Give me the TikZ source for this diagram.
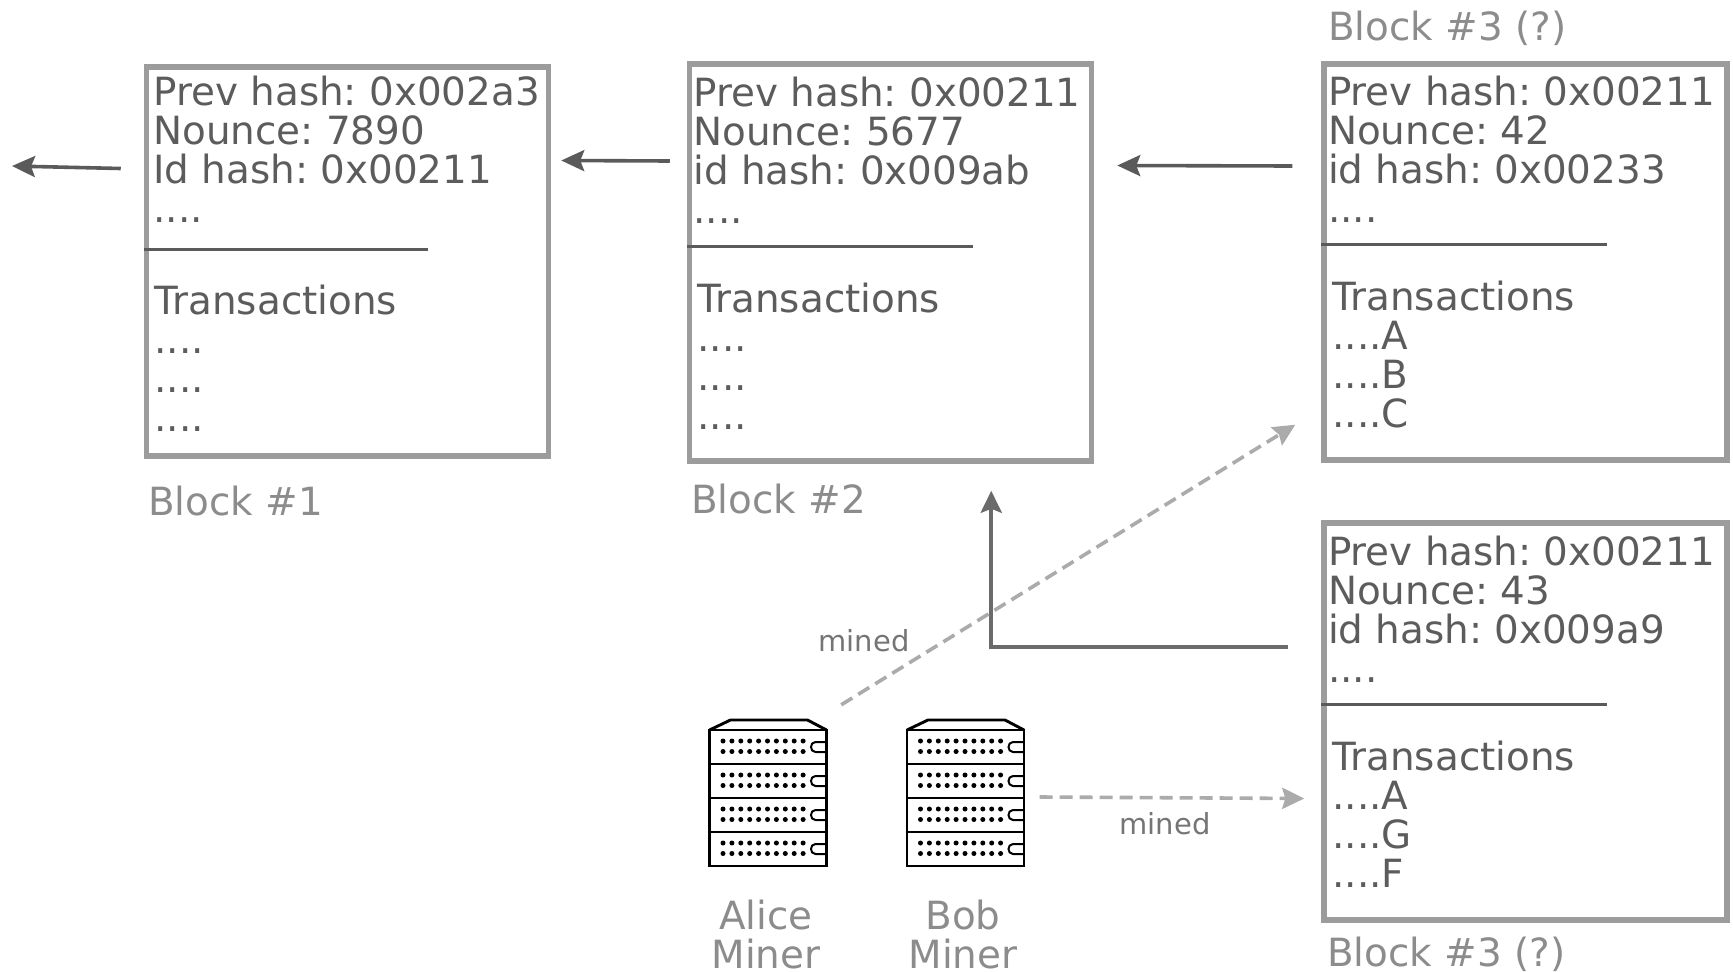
\documentclass[tikz,border=0pt]{standalone}
\usepackage{fontspec}
\setmainfont{DejaVu Sans}
\frenchspacing
\usetikzlibrary{arrows.meta}
\definecolor{inktext}{HTML}{5C5C5C}
\definecolor{inklabel}{HTML}{8C8C8C}
\definecolor{inkbox}{HTML}{9C9C9C}
\definecolor{inkarrow}{HTML}{5A5A5A}
\definecolor{inkdash}{HTML}{ABABAB}
\newcommand{\firstln}{\rule{0pt}{30pt}}
\newcommand{\serverdraw}[3]{%
  \begin{scope}[shift={(#1,#2)}]
    \node[serverframe] (#3) at (59,74) {};
    \draw[srvline,line join=round] (0,12) -- (21,2) -- (98,2) -- (117,12);
    \draw[srvline] (0,12) rectangle (117,148);
    \foreach \ry in {46,80,114}{\draw[srvline] (0,\ry) -- (117,\ry);}
    \foreach \ry in {12,46,80,114}{
      \foreach \cx in {0,...,9}{
        \fill ({13.5+\cx*8.9},{\ry+11}) circle (2.5);
        \fill ({13.5+\cx*8.9},{\ry+21.5}) circle (2.5);
      }
      \draw[line width=2pt] (117,\ry+12) -- (106,\ry+12) .. controls (100,\ry+12) and (100,\ry+22) .. (106,\ry+22) -- (117,\ry+22);
    }
  \end{scope}}
\tikzset{
  x=1pt,y=-1pt,
  blockbox/.style={draw=inkbox,line width=5.5pt,rectangle,inner sep=0pt,fill=none},
  blocktext/.style={anchor=north west,inner sep=0pt,outer sep=0pt,align=left,text=inktext,font=\fontsize{38.85}{39}\selectfont},
  caption/.style={anchor=base west,inner sep=0pt,text=inklabel,font=\fontsize{38.85}{39}\selectfont},
  minerlabel/.style={anchor=north,inner sep=0pt,align=center,text=inklabel,font=\fontsize{38.85}{39}\selectfont},
  minedlabel/.style={inner sep=0pt,text=inktext!85,font=\fontsize{29}{30}\selectfont},
  divider/.style={draw=inkarrow,line width=3pt},
  chainarrow/.style={draw=inkarrow,line width=3.6pt,-{Stealth[length=23pt,width=21pt,inset=4pt]}},
  elbowarrow/.style={draw=inkarrow!90,line width=4.4pt,-{Stealth[length=22pt,width=21pt,inset=4pt]}},
  dasharrow/.style={draw=inkdash,line width=3.6pt,dash pattern=on 13pt off 7pt,-{Stealth[length=22pt,width=21pt,inset=3pt]}},
  srvline/.style={draw=black,line width=2.9pt},
  serverframe/.style={rectangle,inner sep=0pt,minimum width=117pt,minimum height=148pt}
}
\begin{document}
\begin{tikzpicture}
\useasboundingbox (0,0) rectangle (1733,972);
% blocks
\node[blockbox,minimum width=402pt,minimum height=389pt] (b1) at (347.5,261.5) {};
\node[blockbox,minimum width=402pt,minimum height=397pt] (b2) at (890.5,262.5) {};
\node[blockbox,minimum width=403pt,minimum height=396pt] (b3a) at (1525.5,262) {};
\node[blockbox,minimum width=403pt,minimum height=397pt] (b3b) at (1525.5,721.5) {};
% block 1 text
\node[blocktext] (b1h) at (153.5,75) {\firstln Prev hash: 0x002a3\\Nounce: 7890\\Id hash: 0x00211\\....};
\draw[divider] (b1.west |- 0,249) -- (428,249);
\node[blocktext] (b1t) at (154.5,284.5) {\firstln Transactions\\....\\....\\....};
% block 2 text
\node[blocktext] (b2h) at (693.5,76) {\firstln Prev hash: 0x00211\\Nounce: 5677\\id hash: 0x009ab\\....};
\draw[divider] (b2.west |- 0,246) -- (973,246);
\node[blocktext] (b2t) at (697.5,282.5) {\firstln Transactions\\....\\....\\....};
% block 3a text
\node[blocktext] (b3ah) at (1328,75) {\firstln Prev hash: 0x00211\\Nounce: 42\\id hash: 0x00233\\....};
\draw[divider] (b3a.west |- 0,244) -- (1607,244);
\node[blocktext] (b3at) at (1332.5,280.5) {\firstln Transactions\\....A\\....B\\....C};
% block 3b text
\node[blocktext] (b3bh) at (1328,535) {\firstln Prev hash: 0x00211\\Nounce: 43\\id hash: 0x009a9\\....};
\draw[divider] (b3b.west |- 0,704) -- (1607,704);
\node[blocktext] (b3bt) at (1332.5,740.5) {\firstln Transactions\\....A\\....G\\....F};
% captions
\node[caption] (c1) at (148,515) {Block \#1};
\node[caption] (c2) at (691,513) {Block \#2};
\node[caption] (c3a) at (1328,40) {Block \#3 (?)};
\node[caption] (c3b) at (1327,966) {Block \#3 (?)};
% servers
\serverdraw{709.5}{718}{alice}
\serverdraw{907}{718}{bob}
\node[minerlabel] (alab) at (766,900) {Alice\\Miner};
\node[minerlabel] (blab) at (963,900) {Bob\\Miner};
% free ends
\coordinate (tail) at (12,166);
% chain arrows
\draw[chainarrow] ([xshift=-23pt,yshift=93pt]b1.west) -- (tail);
\draw[chainarrow] ([xshift=-17pt,yshift=101.5pt]b2.west) -- ([xshift=10pt,yshift=101pt]b1.east);
\draw[chainarrow] ([xshift=-29pt,yshift=96pt]b3a.west) -- ([xshift=23pt,yshift=97pt]b2.east);
\draw[elbowarrow] ([xshift=-33pt,yshift=74.5pt]b3b.west) -| ([xshift=-103pt,yshift=-27pt]b2.south east);
\draw[dasharrow] ([xshift=14pt,yshift=13pt]alice.north east) -- ([xshift=-26pt,yshift=38pt]b3a.south west);
\draw[dasharrow] ([xshift=15pt,yshift=-5pt]bob.east) -- ([xshift=-17pt,yshift=-77pt]b3b.west);
\node[minedlabel] (m1) at (864,640.5) {mined};
\node[minedlabel] (m2) at (1165,824) {mined};
\end{tikzpicture}
\end{document}
